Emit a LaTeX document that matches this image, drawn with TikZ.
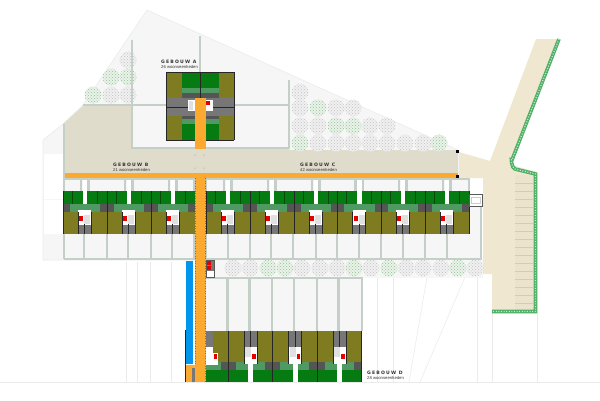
\documentclass[tikz,border=0pt]{standalone}
\usepackage{fontspec}
\setmainfont{Liberation Sans}
\newfontfamily\gebouwfont[LetterSpace=25]{DejaVu Sans}
\usetikzlibrary{patterns}
\definecolor{sitegrey}{HTML}{F6F6F6}
\definecolor{faintline}{HTML}{EBEBEB}
\definecolor{paving}{HTML}{E0DCCC}
\definecolor{cream}{HTML}{EFE7CF}
\definecolor{parking}{HTML}{EBE3CC}
\definecolor{hedgegrey}{HTML}{C4CFC7}
\definecolor{hedgegreen}{HTML}{4FB068}
\definecolor{roofgreen}{HTML}{067B12}
\definecolor{midgreen}{HTML}{4F9A62}
\definecolor{olive}{HTML}{7F7B20}
\definecolor{bayfill}{HTML}{777777}
\definecolor{baydark}{HTML}{555555}
\definecolor{walkway}{HTML}{FBA92F}
\definecolor{waterblue}{HTML}{0096EE}

\begin{document}
\begin{tikzpicture}[x=1pt,y=-1pt]
\tikzset{
  faint/.style={draw=faintline, line width=0.6pt},
  hedge/.style={draw=hedgegrey, line width=2.7pt},
  treegrey/.style={fill=black!6, postaction={pattern=crosshatch dots, pattern color=black!24}},
  treegreen/.style={fill=green!30!black!8, postaction={pattern=crosshatch dots, pattern color=green!50!black!45}},
  wall/.style={draw=black!85, line width=0.9pt},
  label/.style={anchor=west, inner sep=0pt, text=black!80},
  gebouw/.style={label, font={\gebouwfont\bfseries\fontsize{4.6}{5}\selectfont}},
  units/.style={label, font={\fontsize{4.2}{5}\selectfont}}
}
\useasboundingbox (0,0) rectangle (600,400);

% ground
\foreach \lx in {126,137,150,171,377,393,477} \draw[faint] (\lx,262) -- (\lx,382);
\draw[faint] (492,313) -- (492,382);
\draw[faint] (537,313) -- (537,382);
\draw[faint] (427,277) -- (409,382);
\draw[faint] (465,277) -- (420,382);
\draw[faint] (0,382) -- (600,382);
\filldraw[fill=sitegrey, faint] (147,10) -- (458,150) -- (458,260) -- (43,260) -- (43,140) -- (63,124) -- (83,105) -- cycle;
\fill[white] (44,154) rectangle (63,198.5);
\fill[white] (44,199.5) rectangle (63,234);
\fill[paving] (63,124) -- (83,106) -- (132,106) -- (132,148) -- (289,148) -- (289,150) -- (458,150) -- (458,178) -- (63,178) -- cycle;
\fill[sitegrey] (205,259) rectangle (483,278);

% parking and access road
\fill[cream] (459,152) -- (490,161) -- (536,39) -- (560,39) -- (511,165) -- (537,172) -- (537,313) -- (492,313) -- (492,274) -- (483,274) -- (483,178) -- (459,178) -- cycle;
\fill[parking] (515,175) rectangle (533,310);
\foreach \py in {183,191,...,303} \draw[cream!88!black, line width=0.4pt] (515,\py) -- (533,\py);
\draw[hedgegreen, line width=3.6pt] (559,39) -- (512,160) to[out=110,in=170] (515,169) -- (535.5,174) -- (535.5,311.5) -- (492,311.5);
\draw[white!70!hedgegreen, line width=1.2pt, dash pattern=on 1pt off 1.6pt] (559,39) -- (512,160) to[out=110,in=170] (515,169) -- (535.5,174) -- (535.5,311.5) -- (492,311.5);

% trees
\foreach \tx/\ty in {128/60,128/95,111/95,300/92,300/108,300/126,318/126,370/126,387/126,318/143,336/143,353/143,370/143,387/143,405/143,423/143,336/108,353/108,
  233/268,250/268,302/268,320/268,337/268,371/268,406/268,423/268,441/268,475/268}
  \path[treegrey] (\tx,\ty) circle[radius=8.5pt];
\foreach \tx/\ty in {111/77,128/77,93/95,300/143,318/108,336/126,353/126,439/143,
  268/268,285/268,354/268,389/268,458/268}
  \path[treegreen] (\tx,\ty) circle[radius=8.5pt];

% gardens
\draw[hedge] (132,40) -- (132,148) -- (289,148) -- (289,80);
\draw[hedge] (200,36) -- (200,72);
\draw[hedge] (83,105) -- (166,105);
\draw[hedge] (234,105) -- (289,105);
\fill[sitegrey] (64,178) rectangle (469,234);
\fill[sitegrey] (64,234) rectangle (481,259);
\fill[sitegrey] (469,206) rectangle (481,259);
\fill[sitegrey] (206,278) rectangle (361,331);
\draw[hedge] (64,124) -- (64,259);
\draw[hedge] (64,179) -- (469,179) -- (469,194);
\draw[hedge] (64,259) -- (481,259) -- (481,206);
\draw[hedge] (206,278) -- (362,278) -- (362,331);
\foreach \gx in {84,107,128,151,172,194,206,228,250,271,293,316,337,359,381,403,425,447}
  \draw[hedge] (\gx,234) -- (\gx,259);
\foreach \gx in {227.5,249.5,272,294,317,338.5}
  \draw[hedge] (\gx,278) -- (\gx,331);
\foreach \gx in {194,206} \draw[hedge] (\gx,179) -- (\gx,191);

% gebouw B and C
\foreach \xo in {63,107,151,206,250,294,337.5,381,425} {
  \draw[hedge] ({\xo+18},179) -- ({\xo+18},191);
  \draw[hedge] ({\xo+25.5},179) -- ({\xo+25.5},191);
  \fill[white] ({\xo+19.5},180) rectangle ++(4.5,30);
  \fill[roofgreen] (\xo,191) rectangle ++(19.5,13);
  \fill[roofgreen] ({\xo+24},191) rectangle ++(20,13);
  \fill[midgreen] (\xo,204) rectangle ++(44,8);
  \fill[baydark] (\xo,204) rectangle ++(6.5,8);
  \fill[baydark] ({\xo+37},204) rectangle ++(7,8);
  \fill[olive] (\xo,212) rectangle ++(44,21.5);
  \fill[white] ({\xo+15},209.5) rectangle ++(13,15.5);
  \fill[red!90!black] ({\xo+16},216) rectangle ++(4,5);
  \fill[black!12] ({\xo+21},215) rectangle ++(6,9);
  \fill[bayfill] ({\xo+15},225) rectangle ++(13,8.5);
  \draw[wall] ({\xo+21.5},224) -- ({\xo+21.5},233.5);
  \draw[wall, line width=0.6pt] ({\xo+15},212) -- ({\xo+15},233.5);
  \draw[wall, line width=0.6pt] ({\xo+28},212) -- ({\xo+28},233.5);
  \draw[wall] (\xo,191) -- (\xo,233.5);
  \draw[wall] ({\xo+44},191) -- ({\xo+44},233.5);
  \draw[black!40!roofgreen, line width=0.3pt] ({\xo+9},191) -- ({\xo+9},204);
  \draw[black!40!roofgreen, line width=0.3pt] ({\xo+34},191) -- ({\xo+34},204);
}
% annexe at the end of gebouw C
\filldraw[fill=white, draw=black!65, line width=0.7pt] (469,194) rectangle (482,206);
\draw[black!20, line width=0.4pt] (471,197) rectangle (480,203);

% gebouw D
\fill[olive] (206,331) rectangle (361,362);
\fill[midgreen] (206,362) rectangle (361,370);
\fill[roofgreen] (206,370) rectangle (361,382);
\foreach \xo in {228,272.5,317} {
  \fill[baydark] ({\xo-7.5},362) rectangle ++(15,8);
  \fill[baydark] ({\xo+36.5},362) rectangle ++(7.5,8);
  \draw[wall] (\xo,331) -- (\xo,382);
  \fill[white] ({\xo+20},364) rectangle ++(5,18);
  \fill[bayfill] ({\xo+16},331) rectangle ++(13,16);
  \fill[white] ({\xo+16},347) rectangle ++(13,17);
  \fill[black!12] ({\xo+17},347) rectangle ++(6,10);
  \fill[red!90!black] ({\xo+24},354) rectangle ++(3.5,4.5);
  \draw[wall, line width=0.6pt] ({\xo+22.5},331) -- ({\xo+22.5},347);
  \draw[wall, line width=0.6pt] ({\xo+16},331) -- ({\xo+16},364);
  \draw[wall, line width=0.6pt] ({\xo+29},331) -- ({\xo+29},364);
}
\draw[wall] (361,331) -- (361,382);
\fill[bayfill] (206,331) rectangle (213,347);
\fill[white] (206,347) rectangle (213,365);
\fill[white] (213,353) rectangle (218,365);
\fill[red!90!black] (213.5,354) rectangle ++(3.5,4.5);

% gebouw A
\fill[olive] (166,72) rectangle (182,98);
\fill[olive] (219,72) rectangle (234,98);
\fill[olive] (166,116) rectangle (182,140);
\fill[olive] (219,116) rectangle (234,140);
\fill[roofgreen] (182,72) rectangle (219,88);
\fill[midgreen] (182,88) rectangle (219,93);
\fill[baydark] (182,93) rectangle (219,98);
\fill[baydark] (182,111) rectangle (219,119);
\fill[midgreen] (182,119) rectangle (219,124);
\fill[roofgreen] (182,124) rectangle (219,140);
\fill[bayfill] (166,98) rectangle (234,116);
\fill[white] (188,100) rectangle (213,111);
\fill[black!12] (189,101) rectangle (193,110);
\fill[red!90!black] (206,101) rectangle (210,105);
\draw[wall] (166,107) -- (188,107);
\draw[wall] (213,107) -- (234,107);
\draw[wall] (200.5,72) -- (200.5,98);
\draw[wall] (166,72) -- (234,72) -- (234,140);
\draw[wall, line width=0.5pt] (166,72) -- (166,140) -- (234,140);

% walkways
\fill[walkway] (194.5,98) rectangle (206,149);
\fill[walkway] (65,173) rectangle (458,178);
\fill[walkway] (195,178) rectangle (206,382);
\fill[walkway] (186,365) rectangle (195,382);
\fill[waterblue] (186,261) rectangle (193,364);
\fill[bayfill] (192,368) rectangle (195,382);
\draw[wall] (185.2,330) -- (185.2,382);
\draw[draw=walkway!65!black, dotted, line width=0.5pt] (195.5,178) -- (195.5,365);
\draw[draw=walkway!65!black, dotted, line width=0.5pt] (205,178) -- (205,382);
\foreach \dx/\dy in {195/155,204/155,195/168,204/168}
  \fill[black!45] (\dx,\dy) circle[radius=0.5pt];
\fill[black] (455.5,149.5) rectangle ++(3,3);
\fill[black] (455.5,174.5) rectangle ++(3,3);

% small block next to the walkway
\filldraw[fill=white, draw=black!65, line width=0.7pt] (206,260) rectangle (214.5,277);
\fill[bayfill] (206.5,260.5) rectangle (214,270.5);
\fill[red!90!black] (206.5,260.5) rectangle ++(4.5,4);
\fill[red!90!black] (206.5,265.5) rectangle ++(4.5,4.5);

% labels
\node[gebouw] (titleA) at (161,61.5) {GEBOUW A};
\node[units] (unitsA) at (161,66.5) {26 woonseenheden};
\node[gebouw] (titleB) at (113,165) {GEBOUW B};
\node[units] (unitsB) at (113,170) {21 woonseenheden};
\node[gebouw] (titleC) at (300,165) {GEBOUW C};
\node[units] (unitsC) at (300,170) {42 woonseenheden};
\node[gebouw] (titleD) at (367,372.5) {GEBOUW D};
\node[units] (unitsD) at (367,377.5) {28 woonseenheden};
\end{tikzpicture}
\end{document}
